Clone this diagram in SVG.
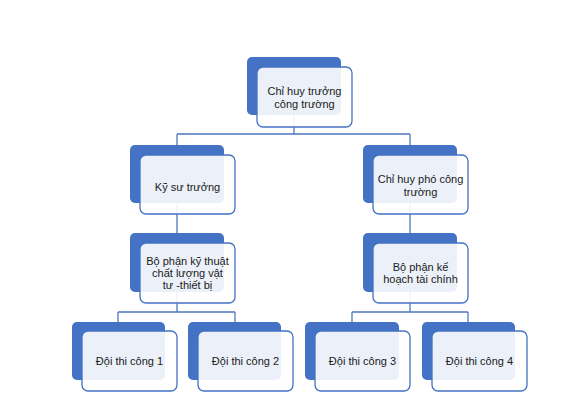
<svg xmlns="http://www.w3.org/2000/svg" width="566" height="417" viewBox="0 0 566 417">
<style>
.back{fill:#4472c4;}
.front{fill:#ffffff;fill-opacity:0.9;stroke:#4472c4;stroke-width:1.3;}
.conn{fill:none;stroke:#4f77c0;stroke-width:1.3;}
text{font-family:"Liberation Sans","DejaVu Sans",sans-serif;font-size:11px;fill:#1a1a1a;text-anchor:middle;}
</style>
<rect width="566" height="417" fill="#ffffff"/>
<g id="connectors">
<path class="conn" d="M294 115 V134 M177 134 H410 M177 134 V145 M410 134 V145"/>
<path class="conn" d="M177 203 V233 M410 203 V233"/>
<path class="conn" d="M177 292 V312 M118 312 H235 M118 312 V322 M235 312 V322"/>
<path class="conn" d="M410 292 V312 M352 312 H468 M352 312 V322 M468 312 V322"/>
</g>
<g id="n1">
<rect class="back" x="247" y="57" width="94" height="58" rx="5"/>
<rect class="front" x="257" y="67" width="95" height="60" rx="6"/>
<text x="304.5" y="95">Chỉ huy trưởng</text>
<text x="304.5" y="108">công trường</text>
</g>
<g id="n2">
<rect class="back" x="130" y="145" width="94" height="58" rx="5"/>
<rect class="front" x="140" y="155" width="95" height="59" rx="6"/>
<text x="187.5" y="191">Kỹ sư trưởng</text>
</g>
<g id="n3">
<rect class="back" x="363" y="145" width="94" height="58" rx="5"/>
<rect class="front" x="373" y="155" width="95" height="59" rx="6"/>
<text x="420.5" y="183">Chỉ huy phó công</text>
<text x="420.5" y="196">trường</text>
</g>
<g id="n4">
<rect class="back" x="130" y="233" width="94" height="59" rx="5"/>
<rect class="front" x="140" y="243" width="95" height="60" rx="6"/>
<text x="187.5" y="265">Bộ phận kỹ thuật</text>
<text x="187.5" y="277">chất lượng vật</text>
<text x="187.5" y="289">tư -thiết bị</text>
</g>
<g id="n5">
<rect class="back" x="363" y="233" width="94" height="59" rx="5"/>
<rect class="front" x="373" y="243" width="95" height="60" rx="6"/>
<text x="420.5" y="271">Bộ phận kế</text>
<text x="420.5" y="283">hoạch tài chính</text>
</g>
<g id="n6">
<rect class="back" x="72" y="322" width="93" height="58" rx="5"/>
<rect class="front" x="82" y="331" width="95" height="60" rx="6"/>
<text x="129.5" y="365">Đội thi công 1</text>
</g>
<g id="n7">
<rect class="back" x="188" y="322" width="93" height="58" rx="5"/>
<rect class="front" x="198" y="331" width="95" height="60" rx="6"/>
<text x="245.5" y="365">Đội thi công 2</text>
</g>
<g id="n8">
<rect class="back" x="305" y="322" width="94" height="58" rx="5"/>
<rect class="front" x="315" y="331" width="95" height="60" rx="6"/>
<text x="362.5" y="365">Đội thi công 3</text>
</g>
<g id="n9">
<rect class="back" x="422" y="322" width="93" height="58" rx="5"/>
<rect class="front" x="432" y="331" width="95" height="60" rx="6"/>
<text x="479.5" y="365">Đội thi công 4</text>
</g>
</svg>
